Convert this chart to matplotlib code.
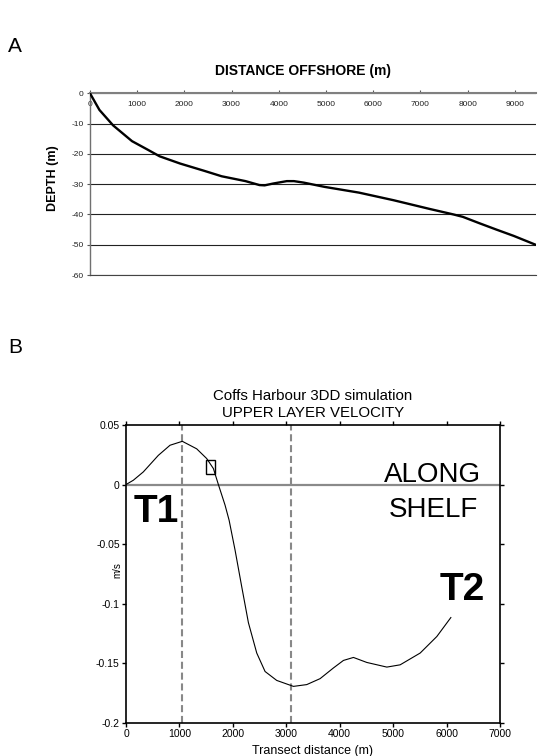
import matplotlib
matplotlib.use("Agg")
import matplotlib.pyplot as plt
from matplotlib.patches import Rectangle

plt.rcParams['font.family'] = ['Liberation Sans', 'DejaVu Sans']

# ---------------- Panel A data: bathymetry profile ----------------
dist_offshore = [0, 200, 490, 890, 1220, 1475, 1910, 2420, 2790, 3295, 3590, 3700,
                 3880, 4170, 4320, 4530, 4970, 5700, 6430, 7200, 7700, 7900, 8250,
                 8610, 8980, 9440]
depth = [0, -5.5, -10.6, -15.8, -18.6, -20.8, -23.2, -25.6, -27.4, -29.0, -30.3, -30.4,
         -29.8, -29.0, -29.0, -29.5, -30.9, -32.8, -35.3, -38.2, -40.0, -40.8, -42.9,
         -45.0, -47.1, -50.0]
a_xticks = [0, 1000, 2000, 3000, 4000, 5000, 6000, 7000, 8000, 9000]
a_yticks = [0, -10, -20, -30, -40, -50, -60]

# ---------------- Panel B data: upper layer velocity ----------------
transect = [0, 137, 324, 605, 824, 1054, 1323, 1511, 1636, 1729, 1854, 1930, 2041,
            2166, 2291, 2447, 2603, 2821, 3134, 3383, 3633, 3883, 4070, 4257, 4507,
            4882, 5131, 5506, 5818, 6080]
velocity = [0, 0.0036, 0.0106, 0.0245, 0.033, 0.0363, 0.030, 0.0218, 0.0134, 0.0,
            -0.0173, -0.030, -0.055, -0.0858, -0.116, -0.1415, -0.157, -0.1645, -0.1695,
            -0.168, -0.163, -0.154, -0.1477, -0.1452, -0.1494, -0.1533, -0.1514, -0.1415,
            -0.1276, -0.1117]
transect_marks = [1054, 3096]
box_x = [1500, 1665]
box_y = [0.0086, 0.0209]
b_xticks = [0, 1000, 2000, 3000, 4000, 5000, 6000, 7000]
b_yticks = [0.05, 0, -0.05, -0.1, -0.15, -0.2]
b_yticklabels = ['0.05', '0', '-0.05', '-0.1', '-0.15', '-0.2']

W, H = 538, 756
fig = plt.figure(figsize=(W / 100, H / 100), dpi=100)


def fx(px):
    return px / W


def fy(py):
    return 1 - py / H


# ======================= Panel A =======================
axA = fig.add_axes([fx(90), fy(275), fx(536) - fx(90), fy(93.3) - fy(275)])
axA.plot(dist_offshore, depth, color='black', lw=1.7, solid_capstyle='round', zorder=3)
axA.set_xlim(0, 9450)
axA.set_ylim(-60, 0)
axA.set_yticks(a_yticks)
axA.set_yticklabels([str(v) for v in a_yticks])
axA.set_xticks(a_xticks)
axA.set_xticklabels([str(v) for v in a_xticks])
axA.xaxis.tick_top()
axA.tick_params(axis='x', direction='out', length=2, width=0.8, color='#555555',
                labelsize=6, pad=-12.5, labelcolor='#222222')
axA.tick_params(axis='y', direction='out', length=2, width=0.8, color='#555555',
                labelsize=6, pad=2.5, labelcolor='#222222')
axA.grid(axis='y', color='#222222', lw=0.8)
axA.set_axisbelow(True)
axA.spines['right'].set_visible(False)
axA.spines['top'].set_color('#808080')
axA.spines['top'].set_linewidth(1.5)
axA.spines['left'].set_color('#707070')
axA.spines['left'].set_linewidth(1.0)
axA.spines['bottom'].set_color('#444444')
axA.spines['bottom'].set_linewidth(0.8)
axA.set_ylabel('DEPTH (m)', fontsize=9, fontweight='bold', va='center', ha='center')
axA.yaxis.set_label_coords(-0.084, 0.534)
fig.text(fx(303), fy(71), 'DISTANCE OFFSHORE (m)', fontsize=10, fontweight='bold',
         ha='center', va='center')

# ======================= Panel B =======================
axB = fig.add_axes([fx(126), fy(722.7), fx(500) - fx(126), fy(425) - fy(722.7)])
axB.plot(transect, velocity, color='black', lw=0.8, zorder=3)
axB.axhline(0, color='#8a8a8a', lw=1.6, zorder=2)
for xm in transect_marks:
    axB.axvline(xm, color='#888888', lw=1.5, linestyle=(0, (3.4, 1.8)), zorder=1)
axB.add_patch(Rectangle((box_x[0], box_y[0]), box_x[1] - box_x[0], box_y[1] - box_y[0],
                        fill=False, edgecolor='black', lw=1.0, zorder=4))
axB.set_xlim(0, 7000)
axB.set_ylim(-0.2, 0.05)
axB.set_xticks(b_xticks)
axB.set_xticklabels([str(v) for v in b_xticks])
axB.set_yticks(b_yticks)
axB.set_yticklabels(b_yticklabels)
axB.tick_params(direction='out', length=3, width=1.0, labelsize=7.5, pad=1.5,
                top=True, right=True)
for s in axB.spines.values():
    s.set_linewidth(1.2)

axB.text(567, -0.0313, 'T1', fontsize=28, fontweight='bold', ha='center', va='baseline')
axB.text(6289, -0.0969, 'T2', fontsize=28, fontweight='bold', ha='center', va='baseline')
axB.text(5740, 0.0022, 'ALONG', fontsize=20, ha='center', va='baseline')
axB.text(5760, -0.0271, 'SHELF', fontsize=20, ha='center', va='baseline')

axB.set_title('Coffs Harbour 3DD simulation\nUPPER LAYER VELOCITY', fontsize=10.8,
              pad=6, linespacing=1.2)
axB.set_xlabel('Transect distance (m)', fontsize=9, va='center')
axB.xaxis.set_label_coords(0.5, -0.094)
axB.set_ylabel('m/s', fontsize=7, va='center', ha='center')
axB.yaxis.set_label_coords(-0.024, 0.513)

fig.text(fx(8), fy(52), 'A', fontsize=15, ha='left', va='baseline')
fig.text(fx(8), fy(353), 'B', fontsize=15, ha='left', va='baseline')

fig.savefig('out.png', dpi=100)
